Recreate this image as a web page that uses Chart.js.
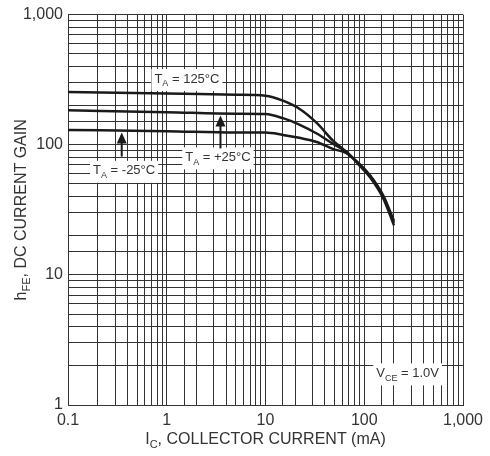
<!DOCTYPE html>
<html>
<head>
<meta charset="utf-8">
<script src="https://cdn.jsdelivr.net/npm/chart.js@4.4.1/dist/chart.umd.min.js"></script>
<style>
  html, body { margin: 0; padding: 0; background: #fff; }
  #wrap { width: 490px; height: 456px; position: relative; }
</style>
</head>
<body>
<div id="wrap"><canvas id="hfeChart"></canvas></div>
<script>
// collector current (mA) sample points, shared by all three curves
const currentMA = [0.1, 1, 5, 10, 15, 22, 33, 48, 66, 90, 115, 155, 200];
// DC current gain
const gain125 = [254, 248, 242, 238, 218, 189, 147, 108, 88, 69, 56, 39, 24];
const gain25 = [184, 178, 173, 172, 160, 143, 122, 102, 88, 70, 57, 40, 25];
const gainMinus25 = [130, 127, 124, 124, 119, 113, 105, 93, 86, 71, 58, 41, 26];

const xTickValues = [0.1, 1, 10, 100, 1000];
const yTickValues = [1, 10, 100, 1000];

const textColor = '#333';
const gridColor = '#333';
const curveColor = '#1a1a1a';
const fontFamily = '"Liberation Sans", Arial, sans-serif';

// annotations (anchored in data units)
const notes = [
  { x: 1.6, y: 320, parts: [['T'], ['A', true], [' = 125°C']] },
  { x: 3.3, y: 80, parts: [['T'], ['A', true], [' = +25°C']] },
  { x: 0.37, y: 63, parts: [['T'], ['A', true], [' = -25°C']] },
  { x: 275, y: 1.75, parts: [['V'], ['CE', true], [' = 1.0V']] }
];
const arrows = [
  { x: 0.35, y: 124, len: 24 },
  { x: 3.5, y: 168, len: 33 }
];

function toPoints(ys) {
  return currentMA.map((x, i) => ({ x: x, y: ys[i] }));
}

function isDecade(v, list) {
  return list.some(t => Math.abs(t - v) / t < 1e-6);
}

function richWidth(ctx, parts, size, subSize) {
  let w = 0;
  parts.forEach(p => {
    ctx.font = (p[1] ? subSize : size) + 'px ' + fontFamily;
    w += ctx.measureText(p[0]).width;
  });
  return w;
}

function drawRich(ctx, parts, cx, cy, size, subSize) {
  const w = richWidth(ctx, parts, size, subSize);
  let x = cx - w / 2;
  ctx.textBaseline = 'middle';
  ctx.textAlign = 'left';
  parts.forEach(p => {
    ctx.font = (p[1] ? subSize : size) + 'px ' + fontFamily;
    ctx.fillText(p[0], x, p[1] ? cy + 5 : cy);
    x += ctx.measureText(p[0]).width;
  });
  return w;
}

const notesPlugin = {
  id: 'notes',
  afterDatasetsDraw(chart) {
    const ctx = chart.ctx;
    const xs = chart.scales.x, ys = chart.scales.y;
    ctx.save();
    notes.forEach(n => {
      const px = xs.getPixelForValue(n.x), py = ys.getPixelForValue(n.y);
      const w = richWidth(ctx, n.parts, 13, 9);
      ctx.fillStyle = '#fff';
      ctx.fillRect(px - w / 2 - 3, py - 10, w + 6, 22);
      ctx.fillStyle = textColor;
      drawRich(ctx, n.parts, px, py, 13, 9);
    });
    ctx.fillStyle = curveColor;
    ctx.strokeStyle = curveColor;
    ctx.lineWidth = 2;
    arrows.forEach(a => {
      const px = xs.getPixelForValue(a.x), py = ys.getPixelForValue(a.y);
      ctx.beginPath();
      ctx.moveTo(px, py + 8);
      ctx.lineTo(px, py + a.len);
      ctx.stroke();
      ctx.beginPath();
      ctx.moveTo(px, py);
      ctx.lineTo(px - 5, py + 11);
      ctx.lineTo(px + 5, py + 11);
      ctx.closePath();
      ctx.fill();
    });
    ctx.restore();
  },
  afterDraw(chart) {
    const ctx = chart.ctx;
    const area = chart.chartArea;
    ctx.save();
    ctx.fillStyle = textColor;
    drawRich(ctx, [['I'], ['C', true], [', COLLECTOR CURRENT (mA)']],
      (area.left + area.right) / 2, 440, 16, 11);
    ctx.translate(22, (area.top + area.bottom) / 2);
    ctx.rotate(-Math.PI / 2);
    drawRich(ctx, [['h'], ['FE', true], [', DC CURRENT GAIN']], 0, 0, 16, 11);
    ctx.restore();
  }
};

const curveStyle = {
  borderColor: curveColor,
  borderWidth: 2.5,
  pointRadius: 0,
  fill: false,
  cubicInterpolationMode: 'monotone'
};

new Chart(document.getElementById('hfeChart'), {
  type: 'line',
  data: {
    datasets: [
      Object.assign({ label: 'TA = 125°C', data: toPoints(gain125) }, curveStyle),
      Object.assign({ label: 'TA = +25°C', data: toPoints(gain25) }, curveStyle),
      Object.assign({ label: 'TA = -25°C', data: toPoints(gainMinus25) }, curveStyle)
    ]
  },
  options: {
    responsive: true,
    maintainAspectRatio: false,
    animation: false,
    layout: { padding: { left: 0, right: 27, top: 14, bottom: 0 } },
    plugins: {
      legend: { display: false },
      tooltip: { enabled: false }
    },
    scales: {
      x: {
        type: 'logarithmic',
        min: 0.1,
        max: 1000,
        afterFit(scale) { scale.height = 51; },
        grid: { color: gridColor, lineWidth: 1, drawTicks: false },
        border: { color: gridColor },
        ticks: {
          autoSkip: false,
          maxRotation: 0,
          padding: 6,
          color: textColor,
          font: { family: fontFamily, size: 16 },
          callback: function (value) {
            if (!isDecade(value, xTickValues)) return '';
            return value >= 1000 ? '1,000' : String(value);
          }
        }
      },
      y: {
        type: 'logarithmic',
        min: 1,
        max: 1000,
        afterFit(scale) { scale.width = 68; },
        grid: { color: gridColor, lineWidth: 1, drawTicks: false },
        border: { color: gridColor },
        ticks: {
          autoSkip: false,
          padding: 5,
          color: textColor,
          font: { family: fontFamily, size: 16 },
          callback: function (value) {
            if (!isDecade(value, yTickValues)) return '';
            return value >= 1000 ? '1,000' : String(value);
          }
        }
      }
    }
  },
  plugins: [notesPlugin]
});
</script>
</body>
</html>
